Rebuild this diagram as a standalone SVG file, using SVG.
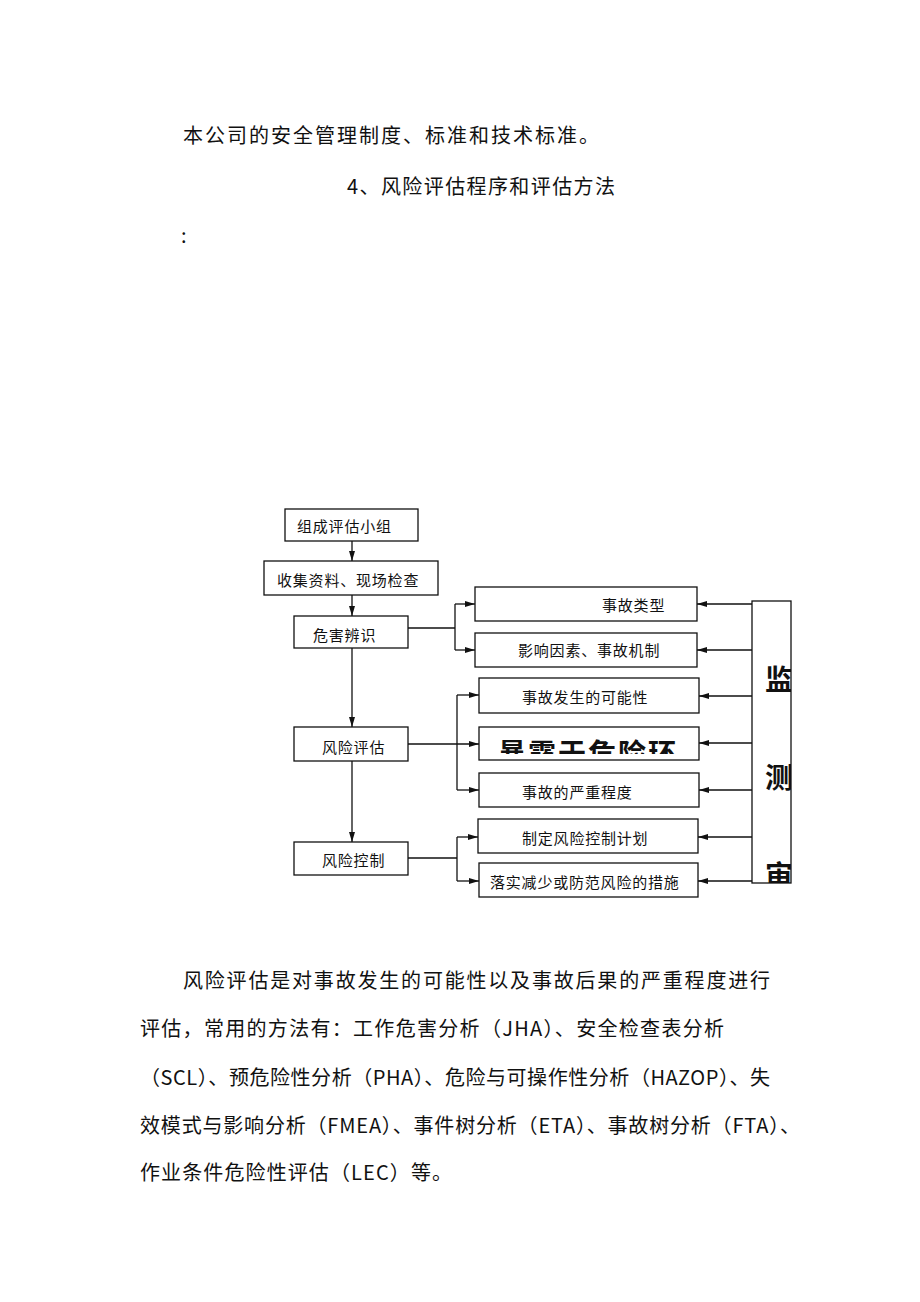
<svg xmlns="http://www.w3.org/2000/svg" width="920" height="1302" viewBox="0 0 920 1302">
<style>
.body{font-family:"Noto Sans CJK SC","Liberation Serif",serif;font-size:20px;fill:#111}
.bx{fill:#fff;stroke:#111;stroke-width:1.3}
.lbl{font-family:"Noto Sans CJK SC","Liberation Sans",sans-serif;font-size:15px;fill:#111;letter-spacing:0.8px}
.big{font-family:"Noto Sans CJK SC","Liberation Sans",sans-serif;font-size:28px;fill:#111;font-weight:bold}
.ln{fill:none;stroke:#111;stroke-width:1.3}
</style>
<defs>
<marker id="ah" markerWidth="10" markerHeight="6" refX="10" refY="3" orient="auto" markerUnits="userSpaceOnUse">
<path d="M0,0 L10,3 L0,6 Z" fill="#111"/>
</marker>
<clipPath id="cExp"><rect x="479" y="727" width="220" height="27"/></clipPath>
<clipPath id="cMon"><rect x="752" y="601" width="39" height="282"/></clipPath>
</defs>
<rect width="920" height="1302" fill="#fff"/>

<g id="top-text">
<text class="body" x="183" y="143" textLength="416" lengthAdjust="spacing">本公司的安全管理制度、标准和技术标准。</text>
<text class="body" x="347" y="194" textLength="268" lengthAdjust="spacing">4、风险评估程序和评估方法</text>
<text class="body" x="181" y="243">:</text>
</g>

<g id="connectors">
<line class="ln" x1="352" y1="541" x2="352" y2="561" marker-end="url(#ah)"/>
<line class="ln" x1="352" y1="595" x2="352" y2="616" marker-end="url(#ah)"/>
<line class="ln" x1="352" y1="648" x2="352" y2="727" marker-end="url(#ah)"/>
<line class="ln" x1="352" y1="761" x2="352" y2="842" marker-end="url(#ah)"/>
<polyline class="ln" points="408,628 455,628"/>
<polyline class="ln" points="455,604 455,650"/>
<line class="ln" x1="455" y1="604" x2="475" y2="604" marker-end="url(#ah)"/>
<line class="ln" x1="455" y1="650" x2="475" y2="650" marker-end="url(#ah)"/>
<polyline class="ln" points="457,695 457,790"/>
<line class="ln" x1="457" y1="695" x2="479" y2="695" marker-end="url(#ah)"/>
<line class="ln" x1="408" y1="744" x2="479" y2="744" marker-end="url(#ah)"/>
<line class="ln" x1="457" y1="790" x2="479" y2="790" marker-end="url(#ah)"/>
<polyline class="ln" points="408,858 457,858"/>
<polyline class="ln" points="457,837 457,881"/>
<line class="ln" x1="457" y1="837" x2="478" y2="837" marker-end="url(#ah)"/>
<line class="ln" x1="457" y1="881" x2="479" y2="881" marker-end="url(#ah)"/>
<line class="ln" x1="752" y1="604" x2="697" y2="604" marker-end="url(#ah)"/>
<line class="ln" x1="752" y1="650" x2="697" y2="650" marker-end="url(#ah)"/>
<line class="ln" x1="752" y1="696" x2="699" y2="696" marker-end="url(#ah)"/>
<line class="ln" x1="752" y1="743" x2="699" y2="743" marker-end="url(#ah)"/>
<line class="ln" x1="752" y1="790" x2="699" y2="790" marker-end="url(#ah)"/>
<line class="ln" x1="752" y1="837" x2="698" y2="837" marker-end="url(#ah)"/>
<line class="ln" x1="752" y1="881" x2="698" y2="881" marker-end="url(#ah)"/>
</g>

<g id="n-team"><rect class="bx" x="285" y="509" width="133" height="32"/><text class="lbl" x="297" y="532">组成评估小组</text></g>
<g id="n-collect"><rect class="bx" x="264" y="561" width="174" height="34"/><text class="lbl" x="277" y="586">收集资料、现场检查</text></g>
<g id="n-hazard"><rect class="bx" x="294" y="616" width="114" height="32"/><text class="lbl" x="313" y="640.5">危害辨识</text></g>
<g id="n-assess"><rect class="bx" x="294" y="727" width="114" height="34"/><text class="lbl" x="322" y="752.5">风险评估</text></g>
<g id="n-control"><rect class="bx" x="294" y="842" width="114" height="33"/><text class="lbl" x="322" y="865.5">风险控制</text></g>

<g id="n-type"><rect class="bx" x="475" y="587" width="222" height="34"/><text class="lbl" x="602" y="610.5">事故类型</text></g>
<g id="n-factor"><rect class="bx" x="475" y="633" width="222" height="34"/><text class="lbl" x="518" y="655.5">影响因素、事故机制</text></g>
<g id="n-likely"><rect class="bx" x="479" y="678" width="220" height="35"/><text class="lbl" x="522" y="702.5">事故发生的可能性</text></g>
<g id="n-expose"><rect class="bx" x="479" y="727" width="220" height="33"/><text class="big" x="498" y="764" letter-spacing="2" clip-path="url(#cExp)">暴露于危险环</text></g>
<g id="n-severity"><rect class="bx" x="479" y="773" width="220" height="34"/><text class="lbl" x="522" y="797.5">事故的严重程度</text></g>
<g id="n-plan"><rect class="bx" x="478" y="819" width="220" height="34"/><text class="lbl" x="522" y="843.5">制定风险控制计划</text></g>
<g id="n-measure"><rect class="bx" x="479" y="863" width="219" height="34"/><text class="lbl" x="490" y="887.5">落实减少或防范风险的措施</text></g>

<g id="n-monitor">
<rect class="bx" x="752" y="601" width="39" height="282"/>
<g clip-path="url(#cMon)">
<text class="big" x="765" y="690">监</text>
<text class="big" x="765" y="788">测</text>
<text class="big" x="765" y="886">审</text>
</g>
</g>

<g id="bottom-text">
<text class="body" x="183" y="988" textLength="587" lengthAdjust="spacing">风险评估是对事故发生的可能性以及事故后果的严重程度进行</text>
<text class="body" x="140" y="1036" textLength="584" lengthAdjust="spacing">评估，常用的方法有：工作危害分析（JHA）、安全检查表分析</text>
<text class="body" x="140" y="1085" textLength="630" lengthAdjust="spacing">（SCL）、预危险性分析（PHA）、危险与可操作性分析（HAZOP）、失</text>
<text class="body" x="140" y="1133" textLength="660" lengthAdjust="spacing">效模式与影响分析（FMEA）、事件树分析（ETA）、事故树分析（FTA）、</text>
<text class="body" x="140" y="1180" textLength="312" lengthAdjust="spacing">作业条件危险性评估（LEC）等。</text>
</g>
</svg>
